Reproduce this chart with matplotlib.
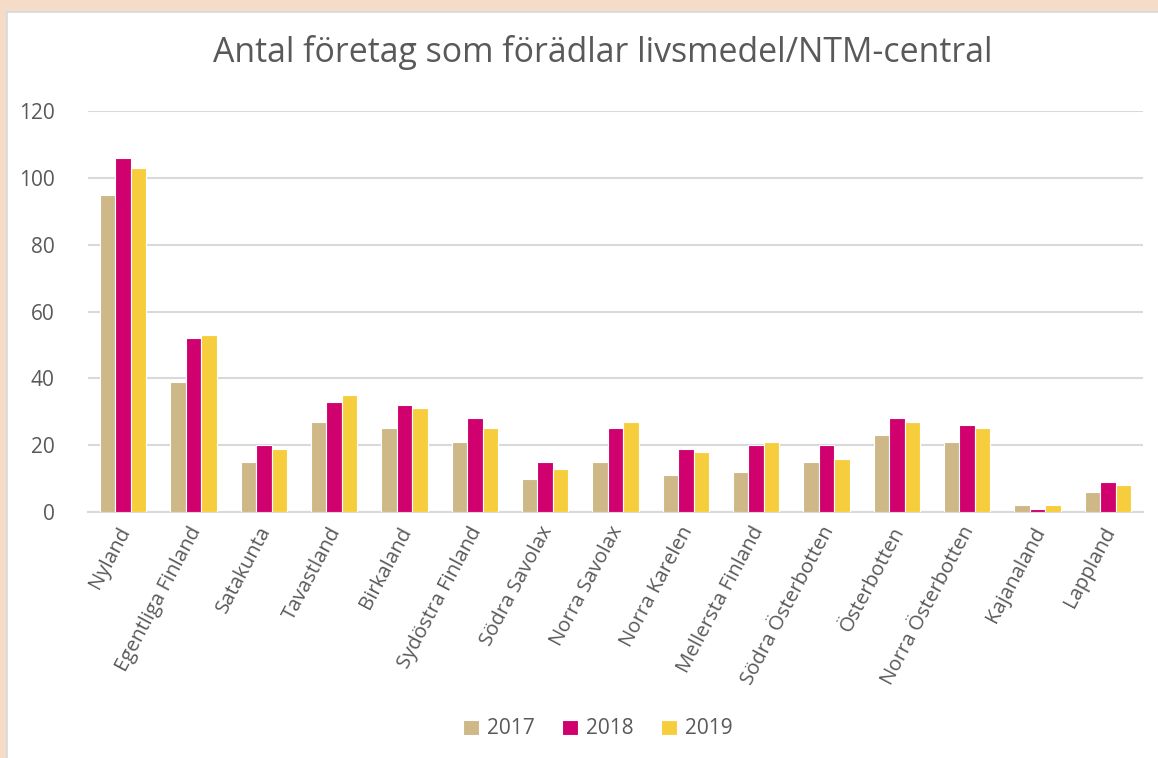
import numpy as np
import matplotlib
matplotlib.use("Agg")
import matplotlib.pyplot as plt
from matplotlib.patches import Rectangle
from matplotlib.transforms import ScaledTranslation

regions = ["Nyland", "Egentliga Finland", "Satakunta", "Tavastland", "Birkaland",
           "Sydöstra Finland", "Södra Savolax", "Norra Savolax", "Norra Karelen",
           "Mellersta Finland", "Södra Österbotten", "Österbotten",
           "Norra Österbotten", "Kajanaland", "Lappland"]
years = ["2017", "2018", "2019"]
v2017 = [95, 39, 15, 27, 25, 21, 10, 15, 11, 12, 15, 23, 21, 2, 6]
v2018 = [106, 52, 20, 33, 32, 28, 15, 25, 19, 20, 20, 28, 26, 1, 9]
v2019 = [103, 53, 19, 35, 31, 25, 13, 27, 18, 21, 16, 27, 25, 2, 8]
colors = ["#CFB887", "#D0006F", "#F6CE3D"]
textc = "#595959"

plt.rcParams['font.family'] = ['Open Sans', 'DejaVu Sans']

fig = plt.figure(figsize=(11.58, 7.58), dpi=100)
fig.patch.set_facecolor("#F5DCC8")
# white chart panel behind everything
panel = Rectangle((7/1158, -0.01), 1.02 - 7/1158, 1.01 - 12/758,
                  transform=fig.transFigure, facecolor="white",
                  edgecolor="#D9D9D9", linewidth=1.2, zorder=-10)
fig.add_artist(panel)

ax = fig.add_axes([88/1158, 1 - 512/758, (1143-88)/1158, (512-111)/758])
ax.set_facecolor("none")

x = np.arange(len(regions))
step = 0.22
for i, (vals, yr) in enumerate(zip([v2017, v2018, v2019], years)):
    ax.bar(x + (i - 1) * step, vals, width=step, color=colors[i],
           edgecolor="white", linewidth=0.8, label=yr, zorder=3)

ax.set_xlim(-0.5, len(regions) - 0.5)
ax.set_ylim(0, 120)
ax.set_yticks(range(0, 121, 20))
ax.yaxis.grid(True, color="#D9D9D9", linewidth=1.5, zorder=0)
ax.set_axisbelow(True)
for s in ["top", "right", "left"]:
    ax.spines[s].set_visible(False)
ax.spines["bottom"].set_color("#D9D9D9")
ax.spines["bottom"].set_linewidth(1.5)
ax.tick_params(axis="both", length=0, colors=textc)
ax.tick_params(axis="y", labelsize=15, pad=24)
ax.set_xticks(x)
ax.set_xticklabels(regions, rotation=62, ha="right", rotation_mode="anchor",
                   fontsize=14.7, color=textc)
ax.tick_params(axis="x", pad=8)
shift = ScaledTranslation(-6/100, 0, fig.dpi_scale_trans)
for lab in ax.get_xticklabels():
    lab.set_transform(lab.get_transform() + shift)

fig.text(603/1158, 1 - 53/758, "Antal företag som förädlar livsmedel/NTM-central",
         ha="center", va="center", fontsize=24.4, color=textc)

ax.legend(loc="center", bbox_to_anchor=(598/1158, 1 - 729/758),
          bbox_transform=fig.transFigure, ncol=3, frameon=False,
          fontsize=15, labelcolor=textc, handlelength=0.75, handleheight=0.75,
          handletextpad=0.4, columnspacing=1.3)

fig.savefig("out.png", dpi=100, facecolor=fig.get_facecolor())
